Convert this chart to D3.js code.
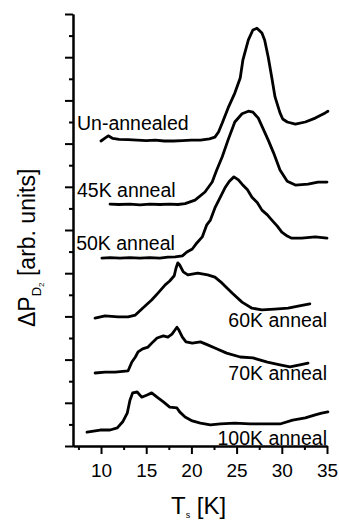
<!DOCTYPE html>
<html>
<head>
<meta charset="utf-8">
<script src="https://cdn.jsdelivr.net/npm/d3@7"></script>
<style>
  html, body { margin: 0; padding: 0; background: #fff; }
  svg { display: block; }
  text { font-family: "Liberation Sans", Arial, sans-serif; fill: #000; }
</style>
</head>
<body>
<svg id="chart" width="339" height="523"></svg>
<script>
// Desorption traces (temperature T in K, offset signal in arb. units)
const unannealed = [
  [10.0, 7.06], [10.4, 7.12], [10.8, 7.18], [11.3, 7.12], [12.0, 7.10], [13.0, 7.09],
  [14.0, 7.08], [15.0, 7.07], [16.0, 7.08], [17.0, 7.06], [18.0, 7.06], [19.0, 7.07],
  [20.0, 7.08], [21.0, 7.08], [22.0, 7.11], [22.6, 7.15], [23.0, 7.27], [23.4, 7.47],
  [24.05, 7.82], [24.8, 8.17], [25.4, 8.52], [25.7, 8.94], [26.3, 9.40], [26.8, 9.63],
  [27.25, 9.67], [27.8, 9.56], [28.1, 9.40], [28.5, 9.00], [28.9, 8.52], [29.25, 8.08],
  [29.8, 7.71], [30.1, 7.57], [30.6, 7.50], [31.5, 7.45], [32.6, 7.50], [33.7, 7.59],
  [34.8, 7.71], [35.1, 7.75]
];
const anneal45 = [
  [11.0, 5.60], [12.0, 5.59], [13.2, 5.60], [14.3, 5.58], [15.4, 5.60], [16.5, 5.59],
  [17.6, 5.60], [18.5, 5.59], [19.3, 5.61], [20.4, 5.69], [21.5, 5.88], [22.3, 6.11],
  [22.8, 6.39], [23.4, 6.69], [24.05, 7.08], [24.8, 7.50], [25.6, 7.69], [26.3, 7.75],
  [26.8, 7.73], [27.4, 7.59], [27.9, 7.36], [28.5, 7.08], [29.1, 6.78], [29.8, 6.39],
  [30.6, 6.13], [31.5, 6.04], [32.2, 6.05], [32.9, 6.06], [34.0, 6.11], [35.0, 6.11]
];
const anneal50 = [
  [10.1, 4.35], [11.0, 4.36], [12.1, 4.35], [13.2, 4.36], [14.3, 4.35], [15.4, 4.36],
  [16.5, 4.35], [17.4, 4.37], [18.2, 4.38], [19.0, 4.40], [19.5, 4.49], [20.1, 4.56],
  [20.6, 4.70], [21.2, 4.84], [21.7, 5.12], [22.1, 5.23], [22.6, 5.51], [23.2, 5.76],
  [23.7, 5.97], [24.2, 6.13], [24.7, 6.23], [25.2, 6.16], [25.6, 6.06], [26.2, 5.93],
  [26.7, 5.76], [27.3, 5.63], [27.8, 5.46], [28.4, 5.35], [28.9, 5.23], [29.5, 5.09],
  [30.0, 4.95], [30.6, 4.86], [31.1, 4.81], [32.2, 4.81], [33.7, 4.84], [35.0, 4.81]
];
const anneal60 = [
  [9.34, 2.96], [10.44, 3.01], [11.9, 2.99], [13.0, 2.99], [13.8, 3.03], [14.6, 3.19],
  [15.6, 3.38], [16.3, 3.54], [17.1, 3.73], [17.6, 3.82], [18.1, 3.94], [18.3, 4.12],
  [18.5, 4.24], [18.7, 4.19], [19.1, 4.03], [19.6, 3.96], [20.7, 4.00], [21.8, 3.96],
  [22.6, 3.91], [23.4, 3.77], [24.5, 3.54], [25.6, 3.33], [26.7, 3.19], [27.8, 3.15],
  [29.2, 3.17], [30.7, 3.19], [31.8, 3.24], [33.1, 3.29]
];
const anneal70 = [
  [9.34, 1.69], [10.44, 1.71], [11.55, 1.71], [13.0, 1.74], [13.4, 1.94], [13.8, 2.06],
  [14.1, 2.18], [14.6, 2.25], [15.2, 2.29], [15.75, 2.41], [16.2, 2.50], [16.9, 2.55],
  [17.4, 2.52], [17.85, 2.59], [18.2, 2.69], [18.4, 2.75], [18.6, 2.69], [19.0, 2.52],
  [19.4, 2.41], [20.1, 2.38], [21.0, 2.41], [21.8, 2.34], [22.6, 2.27], [23.9, 2.15],
  [25.4, 2.06], [26.8, 2.04], [28.4, 1.94], [29.8, 1.88], [30.9, 1.83], [32.0, 1.88],
  [32.9, 1.92]
];
const anneal100 = [
  [8.45, 0.32], [9.9, 0.37], [11.0, 0.37], [11.8, 0.42], [12.4, 0.56], [12.9, 0.76],
  [13.2, 1.06], [13.5, 1.23], [14.0, 1.25], [14.5, 1.13], [15.1, 1.18], [15.6, 1.23],
  [16.2, 1.13], [16.9, 1.02], [17.6, 0.90], [18.4, 0.88], [18.7, 0.79], [19.3, 0.67],
  [20.1, 0.58], [21.0, 0.53], [22.1, 0.49], [23.2, 0.51], [24.8, 0.53], [26.5, 0.51],
  [28.1, 0.51], [29.8, 0.51], [31.2, 0.60], [32.6, 0.65], [33.7, 0.72], [34.4, 0.76],
  [35.1, 0.79]
];

const traceLabels = ["Un-annealed", "45K anneal", "50K anneal", "60K anneal", "70K anneal", "100K anneal"];
const xTickValues = [10, 15, 20, 25, 30, 35];

const svg = d3.select("#chart");
const x = d3.scaleLinear().domain([6.9, 35]).range([73, 327]);
const y = d3.scaleLinear().domain([0, 10]).range([446, 14]);

// Axes: major ticks with labels on x, unlabeled ticks on y
const xMinor = d3.range(7.5, 35, 5);
const yMinor = d3.range(0.5, 10, 1);

const axisStyle = g => {
  g.select(".domain").attr("stroke", "#000").attr("stroke-width", 2);
  g.selectAll(".tick line").attr("stroke", "#000").attr("stroke-width", 2);
};

svg.append("g")
  .attr("transform", "translate(0,446)")
  .call(d3.axisBottom(x).tickValues(xMinor).tickSize(4).tickSizeOuter(0).tickFormat(""))
  .call(axisStyle);
svg.append("g")
  .attr("transform", "translate(0,446)")
  .call(d3.axisBottom(x).tickValues(xTickValues).tickSize(8).tickSizeOuter(0).tickPadding(10))
  .call(axisStyle)
  .call(g => g.selectAll(".tick text")
    .style("font-family", "'Liberation Sans', Arial, sans-serif")
    .style("font-size", "19px").attr("fill", "#000"));

svg.append("g")
  .attr("transform", "translate(73,0)")
  .call(d3.axisLeft(y).tickValues(yMinor).tickSize(4).tickSizeOuter(0).tickFormat(""))
  .call(axisStyle);
svg.append("g")
  .attr("transform", "translate(73,0)")
  .call(d3.axisLeft(y).tickValues(d3.range(0, 11, 1)).tickSize(8).tickSizeOuter(0).tickFormat(""))
  .call(axisStyle);

// Trace labels
const labelPos = [
  { t: 7.34, v: 7.31, anchor: "start" },
  { t: 7.34, v: 5.76, anchor: "start" },
  { t: 7.25, v: 4.54, anchor: "start" },
  { t: 35.0, v: 2.75, anchor: "end" },
  { t: 35.0, v: 1.53, anchor: "end" },
  { t: 35.0, v: 0.03, anchor: "end" }
];
svg.append("g").selectAll("text")
  .data(traceLabels)
  .join("text")
  .attr("x", (d, i) => x(labelPos[i].t))
  .attr("y", (d, i) => y(labelPos[i].v))
  .attr("text-anchor", (d, i) => labelPos[i].anchor)
  .style("font-size", "19.5px")
  .text(d => d);

// Traces
const line = d3.line().x(d => x(d[0])).y(d => y(d[1]));
const traces = [unannealed, anneal45, anneal50, anneal60, anneal70, anneal100];
svg.append("g").selectAll("path")
  .data(traces)
  .join("path")
  .attr("d", line)
  .attr("fill", "none")
  .attr("stroke", "#000")
  .attr("stroke-width", 2.8)
  .attr("stroke-linejoin", "round")
  .attr("stroke-linecap", "round");

// Axis titles
const xt = svg.append("text").attr("x", 171).attr("y", 514).style("font-size", "24px");
xt.append("tspan").text("T");
xt.append("tspan").attr("dy", 4).style("font-size", "9px").text("s");
xt.append("tspan").attr("dy", -4).text(" [K]");

const yt = svg.append("text")
  .attr("transform", "translate(35,327) rotate(-90)")
  .style("font-size", "23px");
yt.append("tspan").text("ΔP");
yt.append("tspan").attr("dy", 6).style("font-size", "13px").text("D");
yt.append("tspan").attr("dy", 3).style("font-size", "8px").text("2");
yt.append("tspan").attr("dy", -9).text(" [arb. units]");
</script>
</body>
</html>
